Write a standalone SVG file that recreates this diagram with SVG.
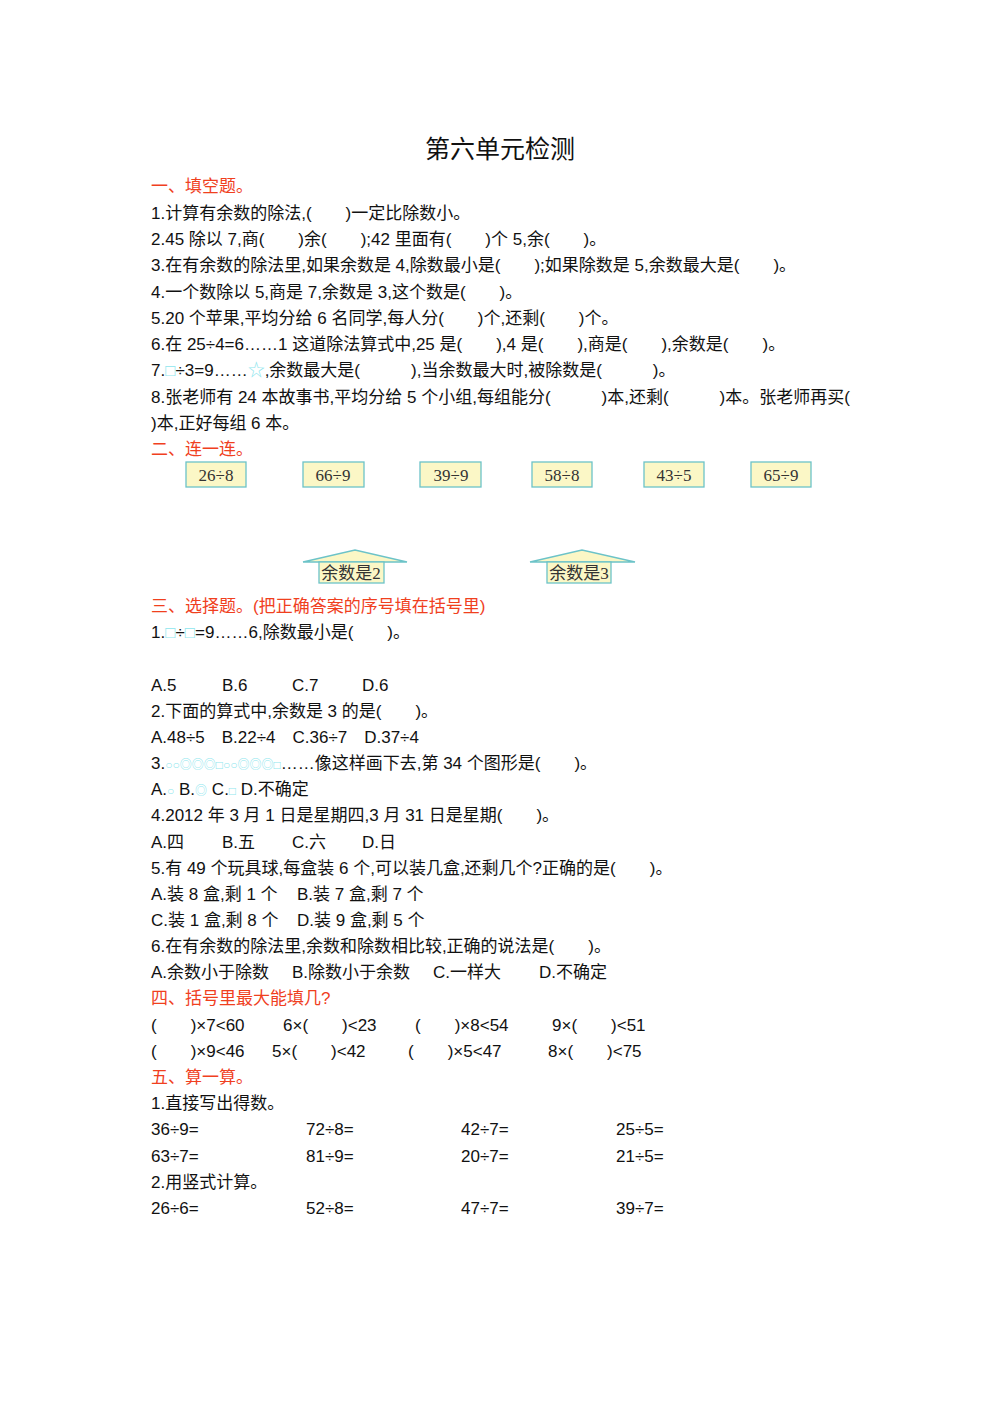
<svg xmlns="http://www.w3.org/2000/svg" width="1000" height="1414" viewBox="0 0 1000 1414">
<style>
text{font-family:"Liberation Sans","Noto Sans CJK SC",sans-serif;font-size:17px;fill:#111}
.h{fill:#f0401e}
.t{font-size:25px}
.s{fill:#8ee6ee}
.bx{fill:#fbf7c6;stroke:#6cc3c8;stroke-width:1.3}
.bt{font-family:"Liberation Serif","Noto Sans CJK SC",serif;font-size:17px;fill:#333;text-anchor:middle}
</style>
<rect width="1000" height="1414" fill="#fff"/>
<text class="t" x="500" y="158" text-anchor="middle">第六单元检测</text>
<text class="h" x="151" y="192">一、填空题。</text>
<text x="151" y="219">1.计算有余数的除法,(　　)一定比除数小。</text>
<text x="151" y="245">2.45 除以 7,商(　　)余(　　);42 里面有(　　)个 5,余(　　)。</text>
<text x="151" y="271">3.在有余数的除法里,如果余数是 4,除数最小是(　　);如果除数是 5,余数最大是(　　)。</text>
<text x="151" y="298">4.一个数除以 5,商是 7,余数是 3,这个数是(　　)。</text>
<text x="151" y="324">5.20 个苹果,平均分给 6 名同学,每人分(　　)个,还剩(　　)个。</text>
<text x="151" y="350">6.在 25÷4=6……1 这道除法算式中,25 是(　　),4 是(　　),商是(　　),余数是(　　)。</text>
<text x="151" y="376">7.<tspan class="s">□</tspan>÷3=9……<tspan class="s">☆</tspan>,余数最大是(　　　),当余数最大时,被除数是(　　　)。</text>
<text x="151" y="403">8.张老师有 24 本故事书,平均分给 5 个小组,每组能分(　　　)本,还剩(　　　)本。张老师再买(</text>
<text x="151" y="429">)本,正好每组 6 本。</text>
<text class="h" x="151" y="455">二、连一连。</text>
<g id="b1"><rect class="bx" x="186" y="462" width="60" height="25"/><text class="bt" x="216" y="481">26÷8</text></g>
<g id="b2"><rect class="bx" x="303" y="462" width="61" height="25"/><text class="bt" x="333" y="481">66÷9</text></g>
<g id="b3"><rect class="bx" x="420" y="462" width="61" height="25"/><text class="bt" x="451" y="481">39÷9</text></g>
<g id="b4"><rect class="bx" x="532" y="462" width="60" height="25"/><text class="bt" x="562" y="481">58÷8</text></g>
<g id="b5"><rect class="bx" x="644" y="462" width="60" height="25"/><text class="bt" x="674" y="481">43÷5</text></g>
<g id="b6"><rect class="bx" x="751" y="462" width="60" height="25"/><text class="bt" x="781" y="481">65÷9</text></g>
<g id="h1"><polygon class="bx" points="303,562 355,550 407,562"/><rect class="bx" x="319" y="562" width="65" height="21"/><text class="bt" x="351" y="579">余数是2</text></g>
<g id="h2"><polygon class="bx" points="530,562 582,550 635,562"/><rect class="bx" x="547" y="562" width="64" height="21"/><text class="bt" x="579" y="579">余数是3</text></g>
<g id="connectors"></g>
<text class="h" x="151" y="612">三、选择题。(把正确答案的序号填在括号里)</text>
<text x="151" y="638">1.<tspan class="s">□</tspan>÷<tspan class="s">□</tspan>=9……6,除数最小是(　　)。</text>
<text x="151" y="691">A.5</text><text x="222" y="691">B.6</text><text x="292" y="691">C.7</text><text x="362" y="691">D.6</text>
<text x="151" y="717">2.下面的算式中,余数是 3 的是(　　)。</text>
<text x="151" y="743">A.48÷5　B.22÷4　C.36÷7　D.37÷4</text>
<text x="151" y="769">3.<tspan class="s" font-size="12">○○◎◎◎□○○◎◎◎□</tspan>……像这样画下去,第 34 个图形是(　　)。</text>
<text x="151" y="795">A.<tspan class="s" font-size="12">○</tspan>  B.<tspan class="s" font-size="12">◎</tspan>  C.<tspan class="s" font-size="12">□</tspan>  D.不确定</text>
<text x="151" y="821">4.2012 年 3 月 1 日是星期四,3 月 31 日是星期(　　)。</text>
<text x="151" y="848">A.四</text><text x="222" y="848">B.五</text><text x="292" y="848">C.六</text><text x="362" y="848">D.日</text>
<text x="151" y="874">5.有 49 个玩具球,每盒装 6 个,可以装几盒,还剩几个?正确的是(　　)。</text>
<text x="151" y="900">A.装 8 盒,剩 1 个</text><text x="297" y="900">B.装 7 盒,剩 7 个</text>
<text x="151" y="926">C.装 1 盒,剩 8 个</text><text x="297" y="926">D.装 9 盒,剩 5 个</text>
<text x="151" y="952">6.在有余数的除法里,余数和除数相比较,正确的说法是(　　)。</text>
<text x="151" y="978">A.余数小于除数</text><text x="292" y="978">B.除数小于余数</text><text x="433" y="978">C.一样大</text><text x="539" y="978">D.不确定</text>
<text class="h" x="151" y="1004">四、括号里最大能填几?</text>
<text x="151" y="1031">(　　)×7&lt;60</text><text x="283" y="1031">6×(　　)&lt;23</text><text x="415" y="1031">(　　)×8&lt;54</text><text x="552" y="1031">9×(　　)&lt;51</text>
<text x="151" y="1057">(　　)×9&lt;46</text><text x="272" y="1057">5×(　　)&lt;42</text><text x="408" y="1057">(　　)×5&lt;47</text><text x="548" y="1057">8×(　　)&lt;75</text>
<text class="h" x="151" y="1083">五、算一算。</text>
<text x="151" y="1109">1.直接写出得数。</text>
<text x="151" y="1135">36÷9=</text><text x="306" y="1135">72÷8=</text><text x="461" y="1135">42÷7=</text><text x="616" y="1135">25÷5=</text>
<text x="151" y="1162">63÷7=</text><text x="306" y="1162">81÷9=</text><text x="461" y="1162">20÷7=</text><text x="616" y="1162">21÷5=</text>
<text x="151" y="1188">2.用竖式计算。</text>
<text x="151" y="1214">26÷6=</text><text x="306" y="1214">52÷8=</text><text x="461" y="1214">47÷7=</text><text x="616" y="1214">39÷7=</text>
</svg>
